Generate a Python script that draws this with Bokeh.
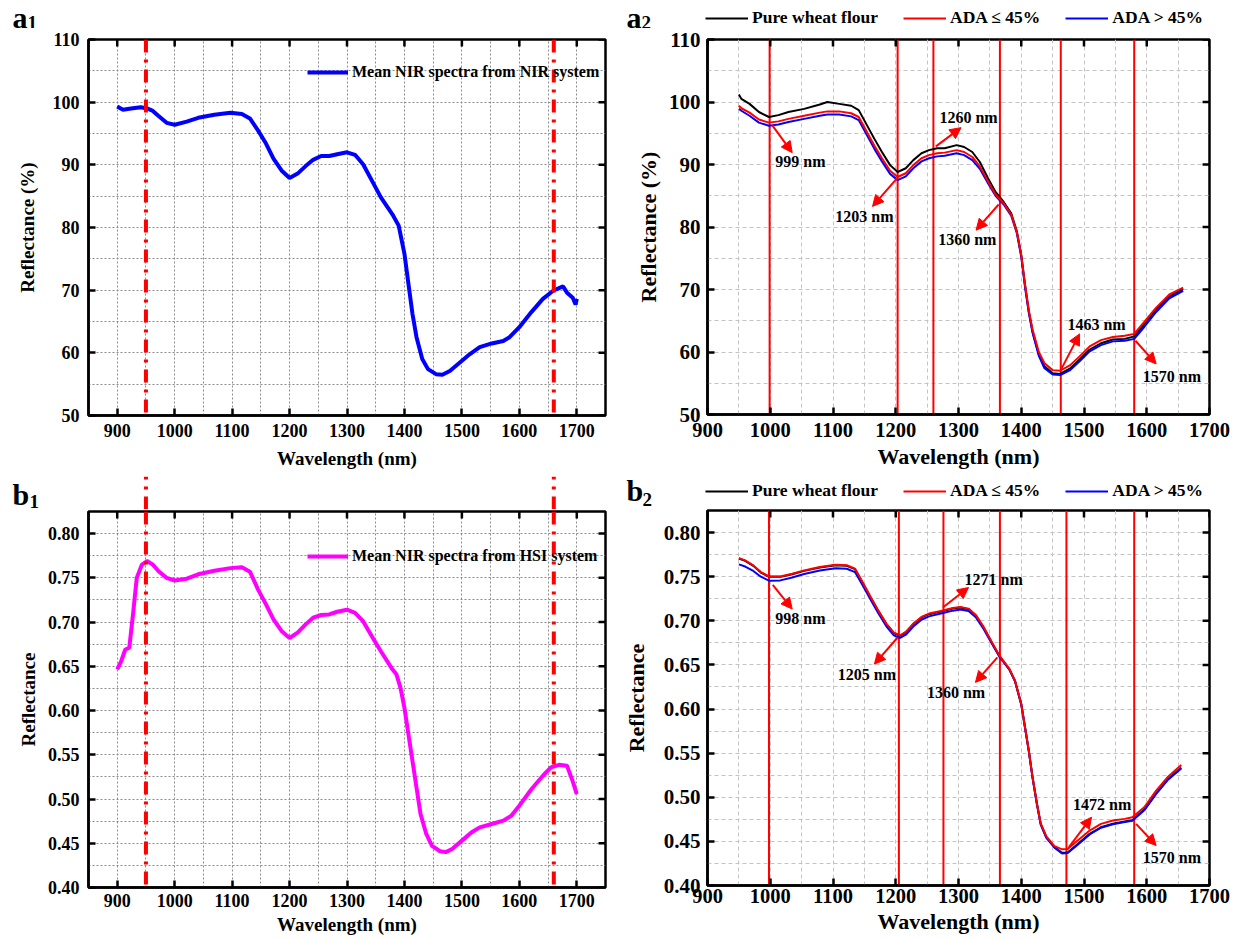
from bokeh.plotting import figure
from bokeh.models import (Range1d, FixedTicker, PrintfTickFormatter, Legend,
                          LegendItem, Arrow, NormalHead, Label, ColumnDataSource)
from bokeh.layouts import row, column
from bokeh.embed import file_html
from bokeh.resources import INLINE
from bokeh.core.properties import value

SERIF = "Liberation Serif"

# ---------------- data ----------------
# (a1) mean NIR spectrum from NIR system
nir_wl = [900, 910, 924, 941, 952, 962, 972, 986, 1000, 1021, 1041, 1069, 1097, 1117, 1131,
          1145, 1159, 1172, 1186, 1200, 1214, 1228, 1241, 1255, 1269, 1283, 1300, 1314, 1328,
          1345, 1359, 1379, 1390, 1400, 1407, 1414, 1421, 1431, 1441, 1455, 1466, 1479, 1497,
          1514, 1531, 1552, 1572, 1583, 1600, 1621, 1641, 1659, 1676, 1683, 1693, 1698, 1700]
nir_refl = [99.3, 98.8, 99.0, 99.2, 99.0, 98.6, 97.8, 96.7, 96.4, 96.9, 97.5, 98.0, 98.3, 98.1,
            97.4, 95.5, 93.4, 91.0, 89.1, 87.9, 88.6, 89.8, 90.8, 91.4, 91.4, 91.7, 92.0, 91.6,
            90.1, 87.2, 84.8, 82.1, 80.3, 75.8, 71.0, 66.2, 62.5, 59.0, 57.4, 56.6, 56.5, 57.1,
            58.5, 59.8, 60.9, 61.5, 61.9, 62.5, 64.1, 66.5, 68.6, 69.9, 70.6, 69.6, 68.8, 67.7, 68.6]

# (b1) mean NIR spectrum from HSI system
hsi_wl = [900, 907, 914, 921, 928, 934, 943, 952, 962, 972, 986, 1000, 1021, 1041, 1069, 1097,
          1117, 1131, 1145, 1159, 1172, 1186, 1200, 1214, 1228, 1241, 1255, 1269, 1283, 1300,
          1314, 1328, 1345, 1359, 1379, 1386, 1393, 1400, 1407, 1414, 1421, 1428, 1438, 1448,
          1462, 1472, 1483, 1500, 1517, 1531, 1552, 1572, 1586, 1600, 1621, 1641, 1655, 1669,
          1683, 1693, 1700]
hsi_refl = [0.6466, 0.656, 0.669, 0.671, 0.712, 0.750, 0.765, 0.769, 0.765, 0.7575, 0.750, 0.747,
            0.749, 0.754, 0.758, 0.761, 0.762, 0.757, 0.737, 0.720, 0.703, 0.690, 0.682, 0.688,
            0.6974, 0.705, 0.708, 0.7087, 0.7117, 0.714, 0.7105, 0.701, 0.682, 0.667, 0.6466,
            0.641, 0.626, 0.603, 0.573, 0.543, 0.513, 0.483, 0.4605, 0.447, 0.441, 0.440, 0.4436,
            0.453, 0.4624, 0.468, 0.4718, 0.4756, 0.481, 0.4925, 0.511, 0.5263, 0.5357, 0.5387,
            0.5376, 0.520, 0.5056]

marker_wl = [950, 1660]

# (a2) NIR system, three groups
a2_wl = [950, 954, 967, 982, 998, 1013, 1029, 1054, 1079, 1091, 1110, 1129, 1141, 1154, 1166,
         1178, 1191, 1203, 1216, 1228, 1241, 1253, 1266, 1278, 1297, 1309, 1322, 1334, 1347,
         1359, 1372, 1384, 1393, 1400, 1406, 1412, 1418, 1428, 1437, 1450, 1462, 1478, 1493,
         1509, 1527, 1546, 1565, 1580, 1596, 1615, 1636, 1658]
a2_pure = [101.2, 100.5, 99.7, 98.4, 97.6, 97.9, 98.4, 98.9, 99.6, 100.0, 99.7, 99.4, 98.7, 96.3,
           94.1, 92.0, 89.9, 88.8, 89.4, 90.7, 91.8, 92.3, 92.6, 92.6, 93.1, 92.8, 92.0, 90.4,
           87.8, 85.6, 84.0, 82.2, 79.3, 75.5, 70.7, 66.5, 63.3, 59.6, 57.7, 56.6, 56.5, 57.4,
           58.8, 60.4, 61.4, 62.0, 62.1, 62.5, 64.4, 66.8, 68.9, 70.1]
a2_low = [99.4, 99.0, 98.3, 97.2, 96.7, 96.9, 97.3, 97.8, 98.3, 98.5, 98.5, 98.2, 97.6, 95.2,
          93.0, 91.0, 89.0, 88.0, 88.6, 89.9, 91.0, 91.5, 91.8, 91.9, 92.3, 92.0, 91.2, 89.7,
          87.3, 85.2, 83.8, 82.0, 79.2, 75.5, 70.8, 66.7, 63.6, 60.0, 58.2, 57.1, 57.0, 57.9,
          59.3, 60.9, 61.9, 62.4, 62.6, 62.9, 64.8, 67.1, 69.2, 70.3]
a2_high = [98.9, 98.6, 97.8, 96.7, 96.2, 96.4, 96.8, 97.3, 97.8, 98.0, 98.0, 97.7, 97.1, 94.7,
           92.5, 90.5, 88.5, 87.5, 88.1, 89.4, 90.5, 91.0, 91.3, 91.4, 91.8, 91.5, 90.7, 89.3,
           87.0, 85.0, 83.6, 81.8, 79.0, 75.2, 70.4, 66.3, 63.1, 59.4, 57.4, 56.4, 56.3, 57.1,
           58.5, 60.1, 61.1, 61.7, 61.8, 62.1, 64.0, 66.4, 68.6, 69.8]
a2_bands = [999, 1203, 1260, 1366, 1463, 1580]
a2_band_text = ["999 nm", "1203 nm", "1260 nm", "1360 nm", "1463 nm", "1570 nm"]
a2_arrow_x0 = [1003, 1203, 1264, 1364, 1464, 1582]
a2_arrow_y0 = [96.3, 87.9, 92.9, 83.6, 57.3, 61.8]
a2_arrow_x1 = [1035, 1163, 1304, 1328, 1493, 1615]
a2_arrow_y1 = [91.9, 83.3, 95.9, 79.5, 62.9, 58.1]
a2_text_x = [1048, 1150, 1316, 1314, 1520, 1640]
a2_text_y = [90.5, 81.75, 97.5, 78.0, 64.4, 56.1]

# (b2) HSI system, three groups
b2_wl = [950, 960, 973, 985, 998, 1016, 1035, 1054, 1079, 1104, 1122, 1135, 1147, 1160, 1172,
         1185, 1197, 1207, 1216, 1228, 1241, 1253, 1272, 1291, 1303, 1316, 1328, 1340, 1353,
         1365, 1381, 1390, 1400, 1406, 1412, 1418, 1425, 1431, 1440, 1453, 1465, 1474, 1490,
         1509, 1527, 1546, 1565, 1577, 1596, 1615, 1633, 1655]
b2_pure = [0.7706, 0.768, 0.7623, 0.7547, 0.7498, 0.7498, 0.7528, 0.7566, 0.7604, 0.763, 0.7623,
           0.7585, 0.7434, 0.7264, 0.7113, 0.6962, 0.686, 0.683, 0.6868, 0.6962, 0.7038, 0.7075,
           0.7106, 0.714, 0.7151, 0.7132, 0.7057, 0.6925, 0.6755, 0.6604, 0.6453, 0.632, 0.6057,
           0.5792, 0.5528, 0.5226, 0.4925, 0.4698, 0.4547, 0.4434, 0.4370, 0.4375, 0.4470,
           0.4585, 0.4660, 0.4700, 0.4725, 0.4740, 0.4860, 0.5045, 0.5200, 0.5335]
b2_low = [0.7710, 0.7685, 0.7628, 0.7552, 0.7502, 0.7502, 0.7533, 0.7571, 0.7609, 0.7635, 0.7630,
          0.7592, 0.7440, 0.7270, 0.7118, 0.6968, 0.6866, 0.6836, 0.6874, 0.6968, 0.7044, 0.7082,
          0.7112, 0.7146, 0.7156, 0.7138, 0.7062, 0.6930, 0.6760, 0.6608, 0.6456, 0.6322, 0.6060,
          0.5796, 0.5532, 0.5230, 0.4930, 0.4705, 0.4556, 0.4446, 0.4410, 0.4415, 0.4510,
          0.4623, 0.4698, 0.4736, 0.4755, 0.4774, 0.4887, 0.5075, 0.5226, 0.5365]
b2_high = [0.7640, 0.7615, 0.7565, 0.7500, 0.7455, 0.7458, 0.7490, 0.7530, 0.7570, 0.7595, 0.7590,
           0.7552, 0.7405, 0.7238, 0.7088, 0.6938, 0.6835, 0.6805, 0.6842, 0.6935, 0.7012, 0.7050,
           0.7082, 0.7115, 0.7127, 0.7110, 0.7036, 0.6908, 0.6742, 0.6595, 0.6446, 0.6314, 0.6050,
           0.5786, 0.5522, 0.5220, 0.4918, 0.4690, 0.4540, 0.4428, 0.4362, 0.4368, 0.4462,
           0.4578, 0.4655, 0.4695, 0.4720, 0.4735, 0.4852, 0.5038, 0.5192, 0.5325]
b2_bands = [998, 1205, 1276, 1366, 1472, 1580]
b2_band_text = ["998 nm", "1205 nm", "1271 nm", "1360 nm", "1472 nm", "1570 nm"]
b2_arrow_x0 = [1004, 1203, 1275, 1362, 1476, 1583]
b2_arrow_y0 = [0.7408, 0.6811, 0.7151, 0.6585, 0.4434, 0.4698]
b2_arrow_x1 = [1035, 1166, 1316, 1327, 1512, 1615]
b2_arrow_y1 = [0.7133, 0.6509, 0.7377, 0.6302, 0.4774, 0.4453]
b2_text_x = [1048, 1154, 1356, 1296, 1529, 1640]
b2_text_y = [0.703, 0.6396, 0.7472, 0.6189, 0.4917, 0.432]

x_ticks = [900, 1000, 1100, 1200, 1300, 1400, 1500, 1600, 1700]
x_minor = [850, 950, 1050, 1150, 1250, 1350, 1450, 1550, 1650, 1750]
pct_ticks = [50, 60, 70, 80, 90, 100, 110]
pct_minor = [55, 65, 75, 85, 95, 105]
refl_ticks = [0.40, 0.45, 0.50, 0.55, 0.60, 0.65, 0.70, 0.75, 0.80]
refl_minor = [0.425, 0.475, 0.525, 0.575, 0.625, 0.675, 0.725, 0.775, 0.825]

legend_groups = ["Pure wheat flour", "ADA \u2264 45%", "ADA > 45%"]
group_colors = ["black", "#ff0000", "#0000ff"]

# ---------------- helpers ----------------
LEFT_W, RIGHT_W = 620, 616
TICK_PX = 7
MARK_DASH = "13 7 3 7"
NAN = float("nan")


def make_panel(w, h, borders, xr, yr, yticks, yminor, yfmt, tick_fs, xtick_fs, lab_fs, ylabel,
               grid_color, grid_dash, y_std, y_lab_std, x_std, x_lab_std):
    l, r, t, b = borders
    p = figure(width=w, height=h, x_range=Range1d(*xr), y_range=Range1d(*yr), title=None,
               output_backend="svg", toolbar_location=None,
               min_border_left=l, min_border_right=r, min_border_top=t, min_border_bottom=b)
    p.background_fill_color = "white"
    p.border_fill_color = "white"
    p.outline_line_color = "black"
    p.outline_line_width = 2.5
    xt = FixedTicker(ticks=x_ticks, minor_ticks=x_minor)
    yt = FixedTicker(ticks=yticks, minor_ticks=yminor)
    xa, ya = p.xaxis[0], p.yaxis[0]
    xa.ticker = xt
    ya.ticker = yt
    if yfmt:
        ya.formatter = PrintfTickFormatter(format=yfmt)
    p.xgrid[0].ticker = xt
    p.ygrid[0].ticker = yt
    for g in (p.xgrid[0], p.ygrid[0]):
        g.grid_line_color = grid_color
        g.grid_line_dash = grid_dash
        g.grid_line_width = 1
        g.minor_grid_line_color = grid_color
        g.minor_grid_line_dash = grid_dash
        g.minor_grid_line_width = 1
    for ax, fs in ((xa, xtick_fs), (ya, tick_fs)):
        ax.axis_line_width = 2.5
        ax.axis_line_color = "black"
        ax.major_tick_in = TICK_PX
        ax.major_tick_out = 0
        ax.major_tick_line_width = 2.5
        ax.minor_tick_in = 0
        ax.minor_tick_out = 0
        ax.major_label_text_font = SERIF
        ax.major_label_text_font_style = "bold"
        ax.major_label_text_font_size = fs
        ax.major_label_text_color = "black"
        ax.axis_label_text_font = SERIF
        ax.axis_label_text_font_style = "bold"
        ax.axis_label_text_font_size = lab_fs
        ax.axis_label_text_color = "black"
    xa.axis_label = "Wavelength (nm)"
    ya.axis_label = ylabel
    ya.major_label_standoff = y_std
    ya.axis_label_standoff = y_lab_std
    xa.major_label_standoff = x_std
    xa.axis_label_standoff = x_lab_std
    return p


def make_header(w, h, page_left, page_top, frame_x0, frame_x1, xr):
    # a strip above a panel (no axes) for the panel letter, legend and marker lines;
    # its frame covers the whole strip, x mapped to the wavelength scale of the panel below
    ppn = (frame_x1 - frame_x0) / (xr[1] - xr[0])
    hx = (xr[0] - frame_x0 / ppn, xr[1] + (w - frame_x1) / ppn)
    p = figure(width=w, height=h, x_range=Range1d(*hx), y_range=Range1d(0, h), title=None,
               output_backend="svg", toolbar_location=None, x_axis_location=None,
               y_axis_location=None, min_border=0)
    p.min_border_left = p.min_border_right = p.min_border_top = p.min_border_bottom = 0
    try:
        p.frame_align = False
    except Exception:
        pass
    p.grid.visible = False
    p.outline_line_color = None
    p.background_fill_color = "white"
    p.border_fill_color = "white"
    return p, ((page_left, page_top, page_left + w, page_top + h), hx, (0, h))


def frame_ticks(p, geom, yticks):
    # inward tick marks on the top and right edges of the frame
    (fx0, fy0, fx1, fy1), (xa, xb), (ya, yb) = geom
    dy = TICK_PX / (fy1 - fy0) * (yb - ya)
    dx = TICK_PX / (fx1 - fx0) * (xb - xa)
    tx = [t for t in x_ticks if xa <= t <= xb]
    p.segment(x0=tx, y0=[yb] * len(tx), x1=tx, y1=[yb - dy] * len(tx),
              line_color="black", line_width=2.5)
    p.segment(x0=[xb] * len(yticks), y0=yticks, x1=[xb - dx] * len(yticks), y1=yticks,
              line_color="black", line_width=2.5)


def to_data(geom, px, py):
    (fx0, fy0, fx1, fy1), (xa, xb), (ya, yb) = geom
    return (xa + (px - fx0) / (fx1 - fx0) * (xb - xa),
            yb - (py - fy0) / (fy1 - fy0) * (yb - ya))


def panel_label(p, geom, letter, sub, pos_letter, pos_sub):
    # positions are the vertical middle of each text
    x, y = to_data(geom, *pos_letter)
    p.add_layout(Label(x=x, y=y, text=letter, text_font=SERIF, text_font_style="bold",
                       text_font_size="30px", text_baseline="middle", text_align="left",
                       text_color="black"))
    x, y = to_data(geom, *pos_sub)
    p.add_layout(Label(x=x, y=y, text=sub, text_font=SERIF, text_font_style="bold",
                       text_font_size="19px", text_baseline="middle", text_align="left",
                       text_color="black"))


def marker_lines(p, y_from, y_to):
    n = len(marker_wl)
    p.segment(x0=marker_wl, y0=[y_from] * n, x1=marker_wl, y1=[y_to] * n,
              line_color="#ff0000", line_width=4, line_dash=MARK_DASH)


def band_marks(p, xs0, ys0, xs1, ys1, tx, ty, txt):
    src = ColumnDataSource(dict(x0=xs0, y0=ys0, x1=xs1, y1=ys1))
    p.add_layout(Arrow(end=NormalHead(size=11, fill_color="#ff0000", line_color="#ff0000"),
                       x_start="x0", y_start="y0", x_end="x1", y_end="y1", source=src,
                       line_color="#ff0000", line_width=2))
    p.text(x=tx, y=ty, text=txt, text_font=value(SERIF), text_font_style="bold",
           text_font_size="16px", text_align="center", text_baseline="middle", text_color="black")


def make_legend(items, loc, orient, fs, gw, spacing):
    return Legend(items=items, location=loc, orientation=orient, padding=0, margin=0,
                  spacing=spacing, glyph_width=gw, glyph_height=20, label_standoff=4,
                  label_height=20, label_text_font=SERIF, label_text_font_style="bold",
                  label_text_font_size=fs, label_text_color="black",
                  background_fill_alpha=0, border_line_color=None)


def group_panel(p, yr, wl, pure, low, high, bands):
    p.segment(x0=bands, y0=[yr[0]] * len(bands), x1=bands, y1=[yr[1]] * len(bands),
              line_color="#ff0000", line_width=2)
    p.line(wl, pure, line_color=group_colors[0], line_width=2)
    p.line(wl, high, line_color=group_colors[2], line_width=2)
    p.line(wl, low, line_color=group_colors[1], line_width=2)


def group_legend(h, hgeom, page_left, page_bottom):
    (gx0, gy0, gx1, gy1), _, _ = hgeom
    keys = [h.line([NAN], [NAN], line_color=c, line_width=2) for c in group_colors]
    items = [LegendItem(label=t, renderers=[r]) for t, r in zip(legend_groups, keys)]
    h.add_layout(make_legend(items, (page_left - gx0, gy1 - page_bottom), "horizontal",
                             "17.5px", 43, 25))


HEAD_A = 28

# ---------------- panel a1 ----------------
a1_xr, a1_yr = (850, 1750), (50, 110)
a1h, a1h_geom = make_header(LEFT_W, HEAD_A, 0, 0, 88, 605, a1_xr)
panel_label(a1h, a1h_geom, "a", "1", (12, 16.5), (27, 21.5))

a1 = make_panel(LEFT_W, 476 - HEAD_A, (88, 15, 39 - HEAD_A, 61), a1_xr, a1_yr, pct_ticks,
                pct_minor, None, "18px", "18px", "19px", "Reflectance (%)", "#8c8c8c", "2 2",
                9, 12, 8, 8)
a1_geom = ((88, 39, 605, 415), a1_xr, a1_yr)
r_nir = a1.line(nir_wl, nir_refl, line_color="#0000ff", line_width=4)
frame_ticks(a1, a1_geom, pct_ticks)
a1.add_layout(make_legend([LegendItem(label="Mean NIR spectra from NIR system", renderers=[r_nir])],
                          (219, 333), "vertical", "16px", 41, 0))
marker_lines(a1, a1_yr[1], a1_yr[0])

# ---------------- panel a2 ----------------
a2_xr, a2_yr = (900, 1700), (50, 110)
a2h, a2h_geom = make_header(RIGHT_W, HEAD_A, 620, 0, 84, 589, a2_xr)
panel_label(a2h, a2h_geom, "a", "2", (626, 16.5), (641, 21.5))
group_legend(a2h, a2h_geom, 705, 28)

a2 = make_panel(RIGHT_W, 476 - HEAD_A, (84, 27, 39 - HEAD_A, 62), a2_xr, a2_yr, pct_ticks,
                pct_minor, None, "21px", "20.5px", "22px", "Reflectance (%)", "#c4c4c4", "4 3",
                7, 5, 8, 4)
a2_geom = ((704, 39, 1209, 414), a2_xr, a2_yr)
group_panel(a2, a2_yr, a2_wl, a2_pure, a2_low, a2_high, a2_bands)
frame_ticks(a2, a2_geom, pct_ticks)
band_marks(a2, a2_arrow_x0, a2_arrow_y0, a2_arrow_x1, a2_arrow_y1, a2_text_x, a2_text_y, a2_band_text)

# ---------------- panel b1 ----------------
b_yr = (0.40, 0.825)
b1h, b1h_geom = make_header(LEFT_W, 33, 0, 476, 88, 605, a1_xr)
marker_lines(b1h, 0, 33)
panel_label(b1h, b1h_geom, "b", "1", (12, 494), (29, 501))

b1 = make_panel(LEFT_W, 431, (88, 15, 2, 53), a1_xr, b_yr, refl_ticks, refl_minor, "%.2f",
                "18px", "18px", "19px", "Reflectance", "#8c8c8c", "2 2", 9, 6, 6, 4)
b1_geom = ((88, 511, 605, 887), a1_xr, b_yr)
r_hsi = b1.line(hsi_wl, hsi_refl, line_color="#ff00ff", line_width=4)
frame_ticks(b1, b1_geom, refl_ticks)
b1.add_layout(make_legend([LegendItem(label="Mean NIR spectra from HSI system", renderers=[r_hsi])],
                          (219, 321), "vertical", "16px", 41, 0))
marker_lines(b1, b_yr[1], b_yr[0])

# ---------------- panel b2 ----------------
b2h, b2h_geom = make_header(RIGHT_W, 32, 620, 476, 84, 589, a2_xr)
panel_label(b2h, b2h_geom, "b", "2", (626, 490), (642, 499))
group_legend(b2h, b2h_geom, 705, 501)

b2 = make_panel(RIGHT_W, 432, (84, 27, 2, 55), a2_xr, b_yr, refl_ticks, refl_minor, "%.2f",
                "21px", "20.5px", "22px", "Reflectance", "#c4c4c4", "4 3", 7, 12, 3, 3)
b2_geom = ((704, 510, 1209, 885), a2_xr, b_yr)
group_panel(b2, b_yr, b2_wl, b2_pure, b2_low, b2_high, b2_bands)
frame_ticks(b2, b2_geom, refl_ticks)
band_marks(b2, b2_arrow_x0, b2_arrow_y0, b2_arrow_x1, b2_arrow_y1, b2_text_x, b2_text_y, b2_band_text)

layout = row(column(a1h, a1, b1h, b1), column(a2h, a2, b2h, b2))
open("out.html", "w").write(file_html(layout, INLINE))
